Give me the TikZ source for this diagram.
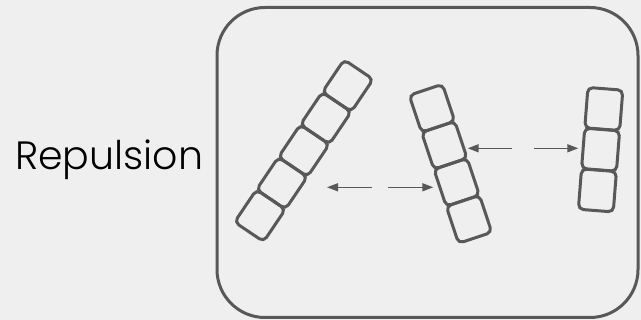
\documentclass[tikz,border=0pt]{standalone}
\usepackage{fontspec}
\setmainfont{Poppins Light}
\usetikzlibrary{arrows.meta}
\definecolor{bg}{HTML}{EFEFEF}
\definecolor{ink}{HTML}{585858}
\begin{document}
\begin{tikzpicture}[x=1pt,y=1pt,
  linkbox/.style={draw=ink, line width=3pt, rounded corners=5pt, minimum width=35pt, minimum height=39pt, inner sep=0pt},
  push/.style={draw=ink, line width=1.5pt, -{Triangle[length=11pt,width=8pt]}},
  frame/.style={draw=ink, line width=3pt, rounded corners=48pt}]
\fill[bg] (0,0) rectangle (641,320);
\useasboundingbox (0,0) rectangle (641,320);
\node[anchor=base west, inner sep=0pt, text=black, font=\fontsize{39.5}{39.5}\selectfont] (label) at (15,150.7) {Repulsion};
\node[frame, minimum width=421pt, minimum height=310pt, inner sep=0pt] (panel) at (427.5,157.5) {};
% chain 1
\foreach \i in {0,...,4} {
  \node[linkbox, rotate=-34] (a\i) at ({260+21.93*\i},{104.3+32.5*\i}) {};
}
% chain 2
\foreach \i in {0,...,3} {
  \node[linkbox, rotate=18.4] (b\i) at ({432+12.33*\i},{211.7-37*\i}) {};
}
% chain 3
\foreach \i in {0,...,2} {
  \node[linkbox, minimum height=40.5pt, rotate=-4.5] (c\i) at ({603.8-3.2*\i},{211-40.7*\i}) {};
}
\coordinate (p1s) at (372,132.7); \coordinate (p1e) at (327,132.7);
\coordinate (p2s) at (388,132.7); \coordinate (p2e) at (433.3,132.7);
\coordinate (p3s) at (511.7,171.7); \coordinate (p3e) at (467.7,171.7);
\coordinate (p4s) at (534,171.7); \coordinate (p4e) at (578.3,171.7);
\draw[push] (p1s) -- (p1e);
\draw[push] (p2s) -- (p2e);
\draw[push] (p3s) -- (p3e);
\draw[push] (p4s) -- (p4e);
\end{tikzpicture}
\end{document}
